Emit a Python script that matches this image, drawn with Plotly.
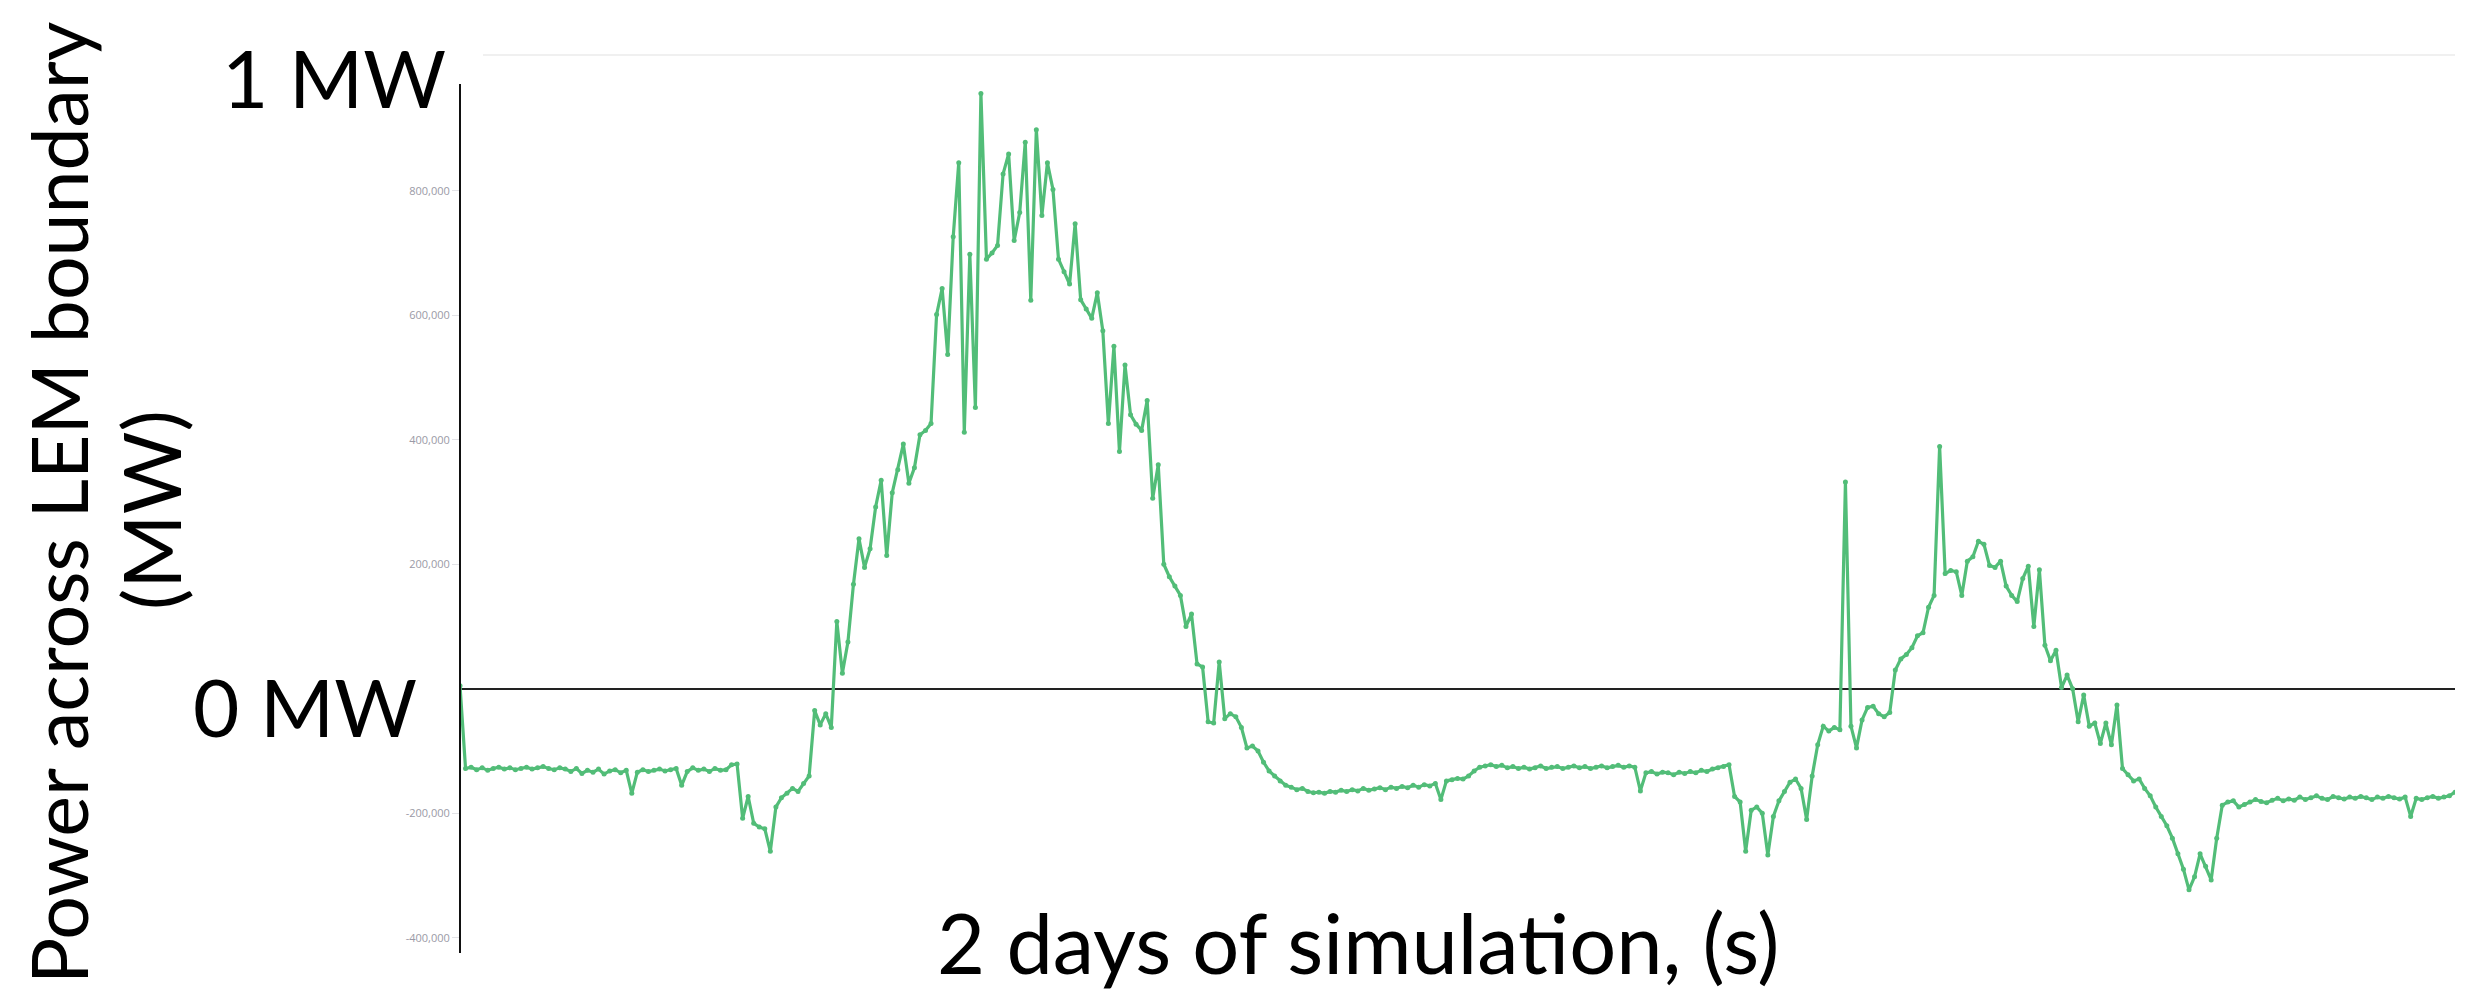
import plotly.graph_objects as go

# ---- data (power across LEM boundary, kW, one sample every 8 minutes over 2 days) ----
STEP_S = 480
power_kw = [
    5, -128, -126, -130, -127, -131, -128, -126, -129, -127,
    -130, -128, -126, -129, -127, -125, -128, -130, -127, -129,
    -133, -128, -136, -131, -134, -129, -137, -132, -130, -135,
    -131, -168, -134, -130, -133, -131, -129, -132, -130, -128,
    -155, -133, -127, -131, -129, -133, -128, -131, -130, -122,
    -121, -208, -173, -216, -222, -225, -261, -190, -175, -168,
    -160, -165, -152, -140, -35, -58, -40, -62, 108, 25,
    75, 168, 241, 195, 225, 292, 335, 214, 315, 352,
    393, 330, 355, 408, 415, 426, 601, 643, 537, 726,
    845, 412, 698, 452, 956, 690, 700, 712, 827, 859,
    720, 765, 878, 624, 898, 760, 845, 802, 690, 670,
    650, 747, 625, 610, 595, 636, 575, 426, 550, 381,
    520, 440, 425, 415, 463, 306, 360, 200, 180, 165,
    150, 100, 120, 40, 35, -53, -55, 43, -48, -40,
    -45, -62, -95, -92, -100, -118, -132, -140, -148, -155,
    -158, -162, -160, -165, -167, -166, -168, -165, -166, -163,
    -165, -162, -164, -160, -163, -161, -159, -162, -158, -160,
    -157, -159, -155, -158, -154, -156, -152, -178, -148, -146,
    -144, -145, -140, -132, -126, -124, -122, -125, -123, -127,
    -125, -128, -126, -129, -127, -124, -128, -126, -125, -128,
    -126, -124, -127, -125, -128, -126, -124, -127, -125, -123,
    -126, -124, -126, -164, -135, -133, -137, -134, -135, -138,
    -134, -136, -133, -135, -131, -133, -129, -127, -125, -122,
    -173, -182, -261, -195, -190, -200, -267, -205, -180, -165,
    -150, -145, -160, -210, -140, -90, -60, -68, -62, -66,
    332, -60, -95, -50, -30, -28, -40, -45, -38, 30,
    48, 55, 66, 85, 90, 131, 150, 389, 185, 190,
    188, 150, 205, 212, 237, 232, 198, 195, 205, 165,
    150, 140, 177, 197, 100, 191, 70, 45, 62, 2,
    22, 0, -53, -10, -60, -55, -88, -55, -90, -26,
    -128, -138, -148, -145, -160, -172, -190, -205, -220, -240,
    -265, -290, -323, -302, -265, -285, -307, -240, -187, -182,
    -180, -190, -186, -182, -178, -181, -183, -179, -176, -180,
    -177, -179, -174, -178, -175, -172, -176, -178, -173, -175,
    -177, -174, -176, -173, -175, -178, -174, -176, -173, -175,
    -177, -174, -205, -176, -178, -175, -173, -176, -174, -172,
    -166,
]
time_s = [i * STEP_S for i in range(len(power_kw))]
power_w = [v * 1000 for v in power_kw]

tick_vals = [-400000, -200000, 200000, 400000, 600000, 800000]
tick_text = ["-400,000", "-200,000", "200,000", "400,000", "600,000", "800,000"]

# ---- layout geometry (pixels) ----
W, H = 2471, 991
PL, PR, PT, PB = 452, 2447, 47, 945


def px_x(p):
    return (p - PL) / (PR - PL)


def px_y(p):
    return (PB - p) / (PB - PT)


GREEN = "rgb(82,189,120)"
FONT = "Lato"

fig = go.Figure()
fig.add_trace(go.Scatter(
    x=time_s, y=power_w, mode="lines+markers",
    line=dict(color=GREEN, width=3.2),
    marker=dict(color=GREEN, size=5),
    showlegend=False, hoverinfo="skip",
))

fig.update_layout(
    width=W, height=H, autosize=False,
    margin=dict(l=PL, r=W - PR, t=PT, b=H - PB, pad=0),
    paper_bgcolor="white", plot_bgcolor="white",
    xaxis=dict(range=[0, time_s[-1]], showgrid=False, zeroline=False,
               showline=False, showticklabels=False, ticks=""),
    yaxis=dict(range=[-424400, 1018000], showgrid=False,
               zeroline=True, zerolinecolor="#222222", zerolinewidth=1.6,
               showline=False, tickmode="array", tickvals=tick_vals,
               ticktext=tick_text, ticks="outside", ticklen=7,
               tickcolor="#e2e2e6", tickwidth=1,
               tickfont=dict(family="Open Sans", size=11, color="#9a9aa6")),
    shapes=[
        dict(type="line", xref="paper", yref="paper", x0=0, x1=0,
             y0=0, y1=px_y(76), line=dict(color="#111111", width=2)),
        dict(type="line", xref="paper", yref="paper", x0=px_x(475), x1=1,
             y0=1, y1=1, line=dict(color="#f0f0f0", width=2)),
    ],
    annotations=[
        dict(text="1 MW", xref="paper", yref="paper", x=px_x(440), y=px_y(69),
             xanchor="right", yanchor="middle", showarrow=False,
             font=dict(family=FONT, size=80, color="black")),
        dict(text="0 MW", xref="paper", yref="paper", x=px_x(411), y=px_y(698),
             xanchor="right", yanchor="middle", showarrow=False,
             font=dict(family=FONT, size=80, color="black")),
        dict(text="Power across LEM boundary", xref="paper", yref="paper",
             x=px_x(50), y=px_y(495), xanchor="center", yanchor="middle",
             textangle=-90, showarrow=False,
             font=dict(family=FONT, size=77, color="black")),
        dict(text="(MW)", xref="paper", yref="paper",
             x=px_x(142), y=px_y(502), xanchor="center", yanchor="middle",
             textangle=-90, showarrow=False,
             font=dict(family=FONT, size=80, color="black")),
        dict(text="2 days of simulation, (s)", xref="paper", yref="paper",
             x=px_x(1350), y=px_y(934), xanchor="center", yanchor="middle",
             showarrow=False,
             font=dict(family=FONT, size=83, color="black")),
    ],
)

fig.write_html("out.html", config={"displayModeBar": False})
